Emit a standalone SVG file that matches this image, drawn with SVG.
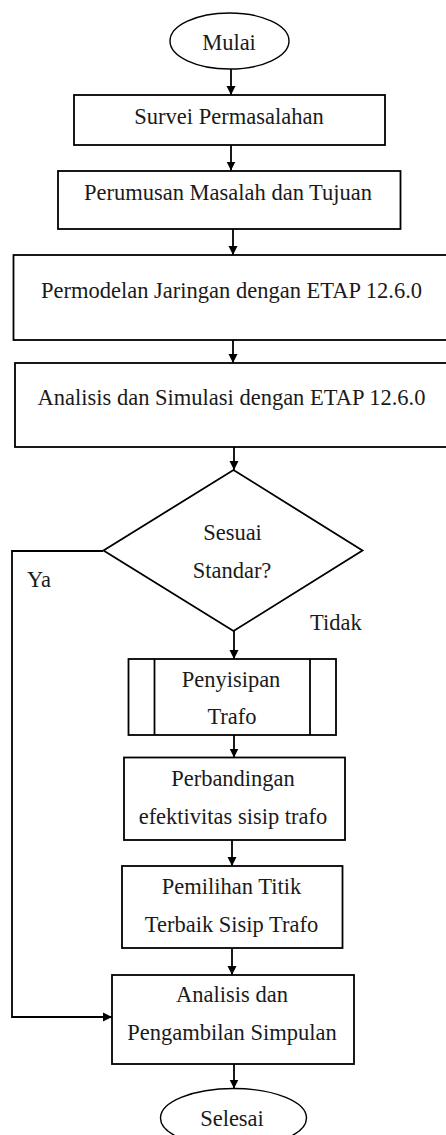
<svg xmlns="http://www.w3.org/2000/svg" width="446" height="1135" viewBox="0 0 446 1135">
<style>
.n{fill:#fff;stroke:#000;stroke-width:1.8}
.e{fill:#fff;stroke:#000;stroke-width:1.4}
.t{font-family:"Liberation Serif","Times New Roman",serif;font-size:22.5px;fill:#1a1a1a;text-anchor:middle}
.l{font-family:"Liberation Serif","Times New Roman",serif;font-size:22.5px;fill:#1a1a1a}
.c{fill:none;stroke:#000;stroke-width:1.8}
</style>
<defs>
<marker id="ah" markerUnits="userSpaceOnUse" markerWidth="10" markerHeight="10" refX="9" refY="5" orient="auto">
<path d="M0,0.5 L9,5 L0,9.5 z" fill="#000"/>
</marker>
</defs>
<rect width="446" height="1135" fill="#fff"/>
<g id="connectors">
<line class="c" x1="231" y1="69" x2="231" y2="95" marker-end="url(#ah)"/>
<line class="c" x1="231" y1="145" x2="231" y2="170.5" marker-end="url(#ah)"/>
<line class="c" x1="233" y1="229" x2="233" y2="255" marker-end="url(#ah)"/>
<line class="c" x1="233" y1="340" x2="233" y2="363" marker-end="url(#ah)"/>
<line class="c" x1="234" y1="447" x2="234" y2="470" marker-end="url(#ah)"/>
<line class="c" x1="234" y1="631" x2="234" y2="659" marker-end="url(#ah)"/>
<line class="c" x1="234" y1="735" x2="234" y2="757.5" marker-end="url(#ah)"/>
<line class="c" x1="232" y1="840" x2="232" y2="866" marker-end="url(#ah)"/>
<line class="c" x1="232" y1="948" x2="232" y2="975" marker-end="url(#ah)"/>
<line class="c" x1="234" y1="1064" x2="234" y2="1088.5" marker-end="url(#ah)"/>
<polyline class="c" points="103,551 12,551 12,1017 112,1017" marker-end="url(#ah)"/>
<text class="l" x="27" y="587">Ya</text>
<text class="l" x="310" y="630">Tidak</text>
</g>
<g id="mulai">
<ellipse class="e" cx="229.5" cy="41" rx="59.5" ry="28"/>
<text class="t" x="229" y="50">Mulai</text>
</g>
<g id="survei">
<rect class="n" x="74" y="95" width="311" height="50"/>
<text class="t" x="229" y="124">Survei Permasalahan</text>
</g>
<g id="perumusan">
<rect class="n" x="58" y="171" width="342.5" height="58"/>
<text class="t" x="228" y="200">Perumusan Masalah dan Tujuan</text>
</g>
<g id="permodelan">
<rect class="n" x="13.5" y="255" width="440" height="85"/>
<text class="t" x="231.5" y="298">Permodelan Jaringan dengan ETAP 12.6.0</text>
</g>
<g id="analisis-simulasi">
<rect class="n" x="15" y="363" width="440" height="84"/>
<text class="t" x="231.5" y="405">Analisis dan Simulasi dengan ETAP 12.6.0</text>
</g>
<g id="sesuai">
<polygon class="n" points="233.5,470 362.5,550.5 233.5,631 103.5,550.5"/>
<text class="t" x="232.5" y="540">Sesuai</text>
<text class="t" x="232" y="578">Standar?</text>
</g>
<g id="penyisipan">
<rect class="n" x="128.5" y="659" width="207.5" height="76"/>
<line class="n" x1="154.5" y1="659" x2="154.5" y2="735"/>
<line class="n" x1="310" y1="659" x2="310" y2="735"/>
<text class="t" x="231" y="687">Penyisipan</text>
<text class="t" x="232" y="724">Trafo</text>
</g>
<g id="perbandingan">
<rect class="n" x="124" y="757.5" width="221" height="82.5"/>
<text class="t" x="233" y="786">Perbandingan</text>
<text class="t" x="233" y="824">efektivitas sisip trafo</text>
</g>
<g id="pemilihan">
<rect class="n" x="122" y="866" width="220.5" height="82"/>
<text class="t" x="231.5" y="894">Pemilihan Titik</text>
<text class="t" x="231.5" y="932">Terbaik Sisip Trafo</text>
</g>
<g id="analisis-simpulan">
<rect class="n" x="112" y="975" width="242" height="89"/>
<text class="t" x="232" y="1002">Analisis dan</text>
<text class="t" x="232" y="1040">Pengambilan Simpulan</text>
</g>
<g id="selesai">
<ellipse class="e" cx="233.5" cy="1118" rx="73" ry="29.5"/>
<text class="t" x="232" y="1126">Selesai</text>
</g>
</svg>
